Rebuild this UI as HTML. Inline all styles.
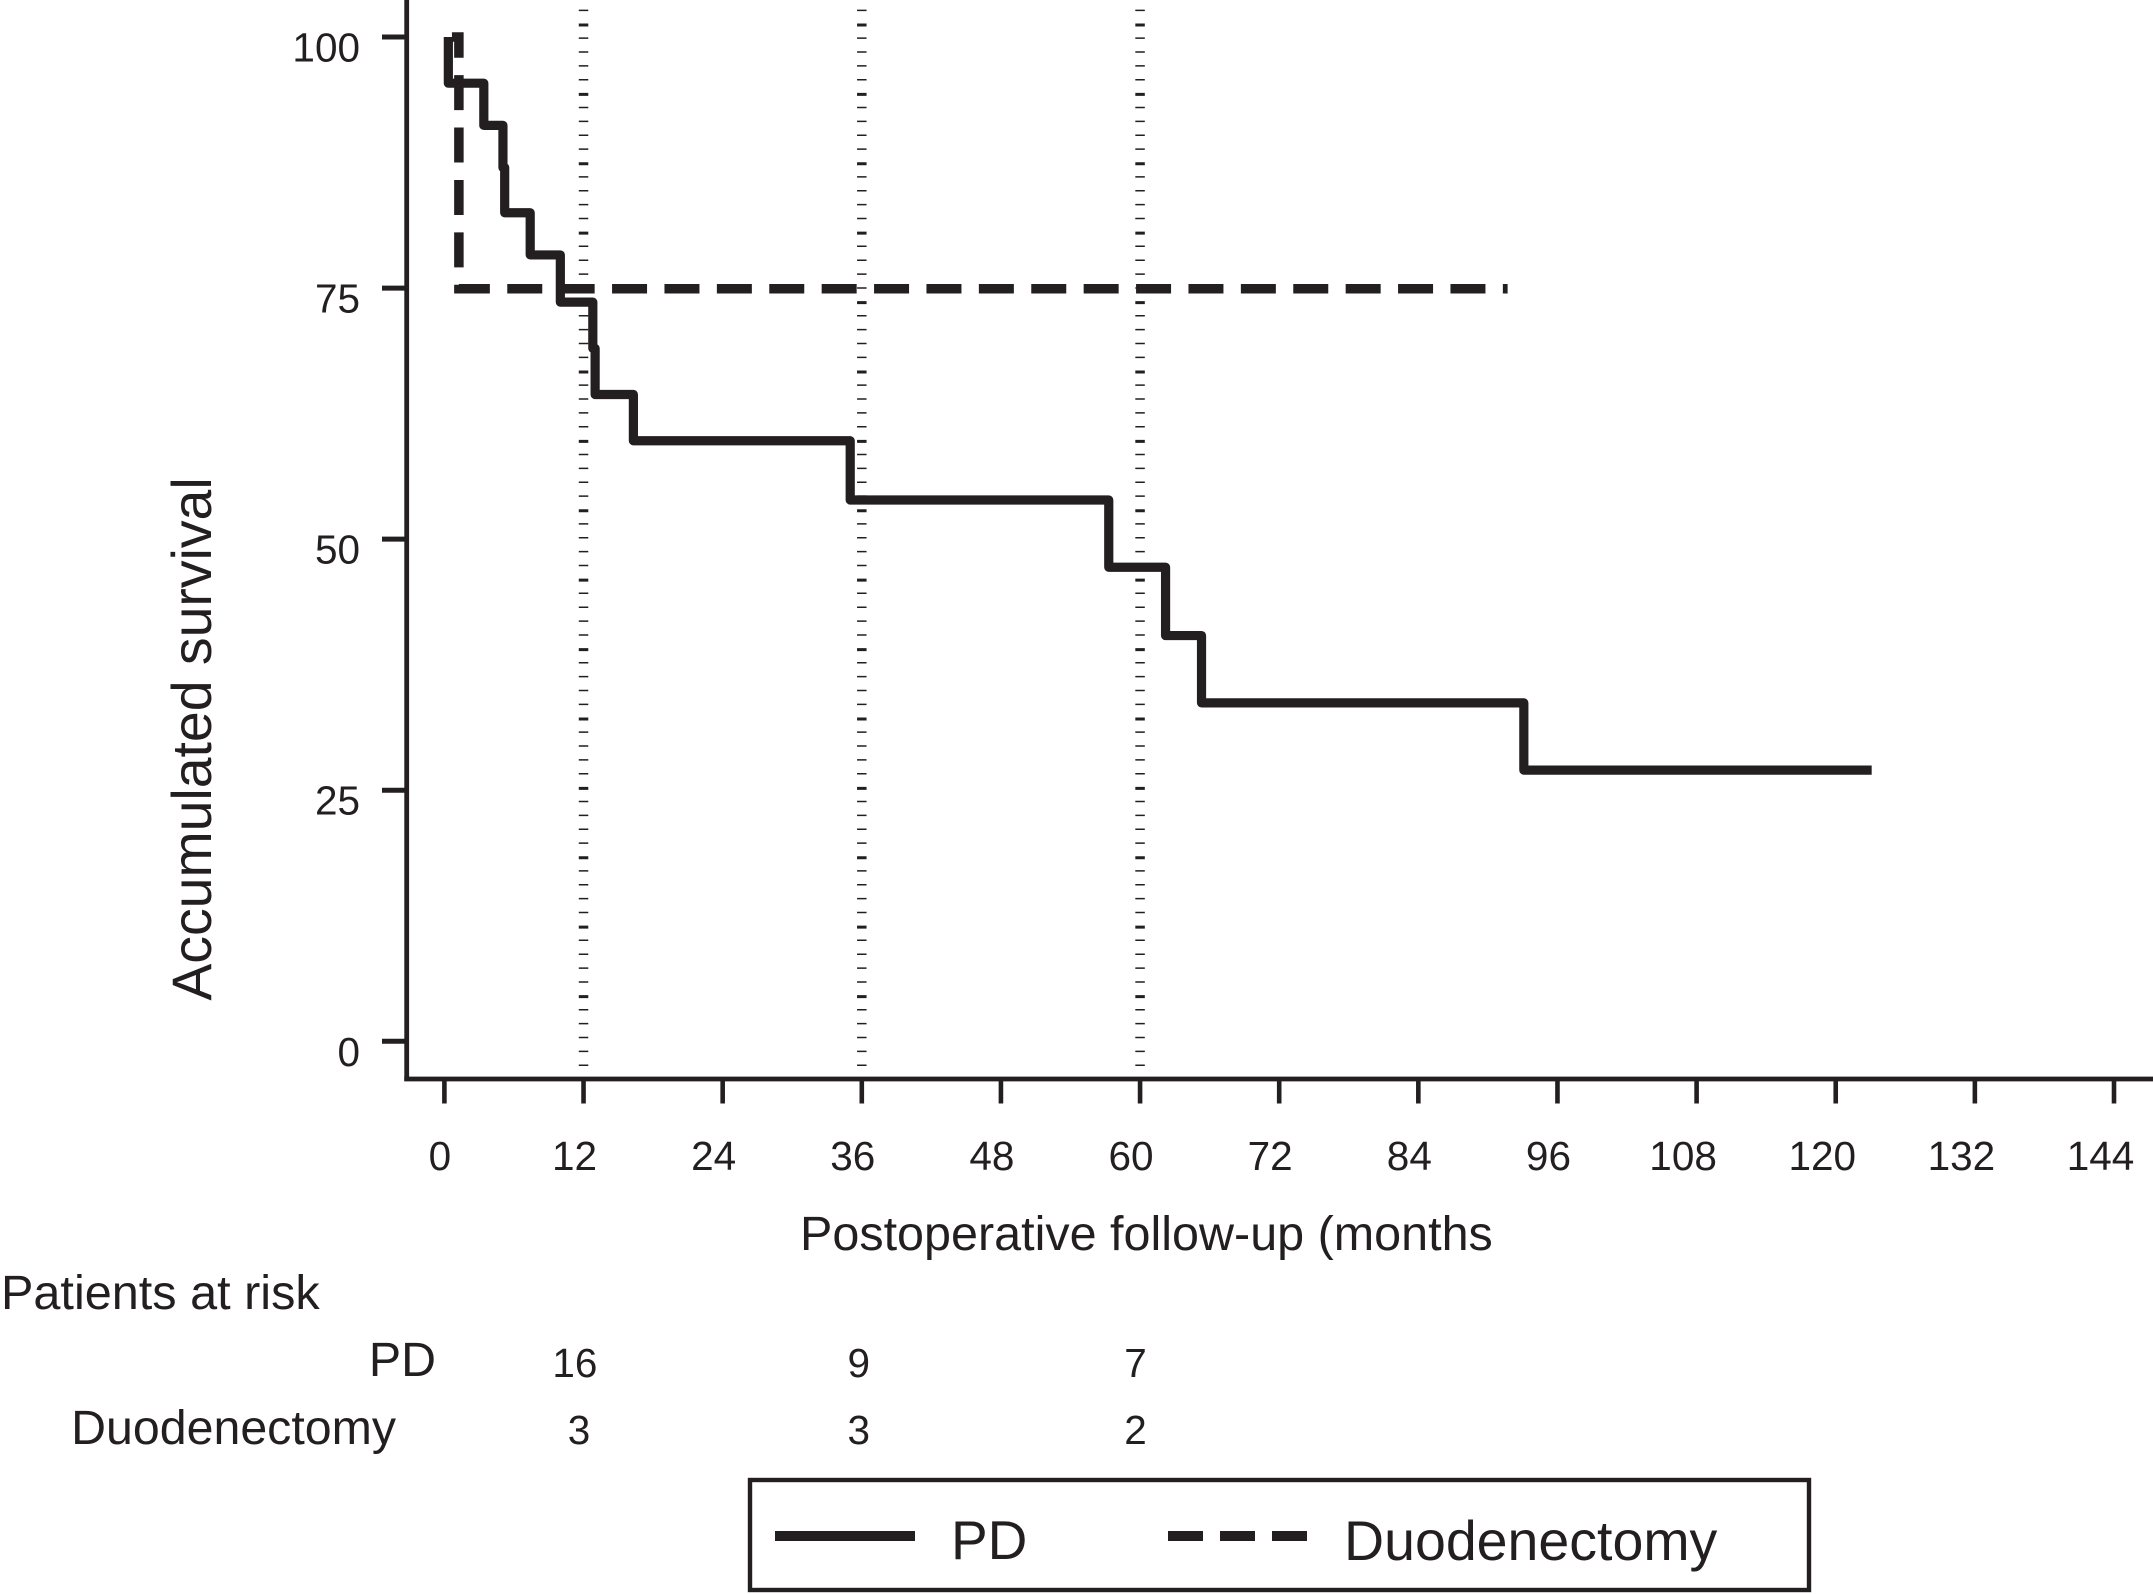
<!DOCTYPE html>
<html>
<head>
<meta charset="utf-8">
<title>Accumulated survival chart</title>
<style>
html,body{margin:0;padding:0;background:#fff;}
svg{display:block;}
text{font-family:"Liberation Sans",sans-serif;fill:#231f20;}
</style>
</head>
<body>
<svg id="chart" width="2153" height="1594" viewBox="0 0 2153 1594" xmlns="http://www.w3.org/2000/svg">
  <rect x="0" y="0" width="2153" height="1594" fill="#ffffff"/>
  <g id="guides"></g>
  <g id="axes">
    <line x1="406.7" y1="0" x2="406.7" y2="1081" stroke="#231f20" stroke-width="4.8"/>
    <line x1="404.3" y1="1079" x2="2153" y2="1079" stroke="#231f20" stroke-width="4.8"/>
  </g>
  <g id="series"></g>
  <text x="211" y="739" font-size="55.4" transform="rotate(-90 211 739)" text-anchor="middle">Accumulated survival</text>
  <text x="800" y="1250" font-size="48.5">Postoperative follow-up (months</text>
  <text x="1" y="1309" font-size="48.6">Patients at risk</text>
  <text x="436" y="1376" font-size="48.3" text-anchor="end">PD</text>
  <text x="396" y="1444" font-size="48.3" text-anchor="end">Duodenectomy</text>
  <g id="risk"></g>
  <g>
    <rect x="750" y="1480" width="1059" height="110" fill="none" stroke="#231f20" stroke-width="4.4"/>
    <line x1="775" y1="1536" x2="915" y2="1536" stroke="#231f20" stroke-width="10"/>
    <text x="951" y="1559" font-size="55">PD</text>
    <line x1="1168" y1="1536" x2="1309" y2="1536" stroke="#231f20" stroke-width="10" stroke-dasharray="35 17"/>
    <text x="1344" y="1560" font-size="55.5">Duodenectomy</text>
  </g>
</svg>
<script>
const xTickLabels = [0, 12, 24, 36, 48, 60, 72, 84, 96, 108, 120, 132, 144];
const yTickLabels = [0, 25, 50, 75, 100];
const guideTimes = [12, 36, 60];
const pdTime = [0.34, 0.34, 3.4, 5.05, 5.2, 7.4, 10, 12.8, 13, 16.3, 35, 57.3, 62.2, 65.3, 93.1, 123.1];
const pdSurvival = [100, 95.4, 91.2, 87, 82.5, 78.3, 73.6, 69, 64.4, 59.8, 53.9, 47.2, 40.4, 33.7, 27, 27];
const duoTime = [0.65, 1.25, 91.7];
const duoSurvival = [100, 74.93, 74.93];
const riskTimes = [12, 36, 60];
const riskPD = [16, 9, 7];
const riskDuo = [3, 3, 2];

const NS = 'http://www.w3.org/2000/svg';
const INK = '#231f20';
const xScale = t => 444.4 + t * (2114 - 444.4) / 144;
const yScale = s => 1041.3 - s * (1041.3 - 37) / 100;

function make(parent, tag, attrs, text) {
  const el = document.createElementNS(NS, tag);
  for (const k in attrs) el.setAttribute(k, attrs[k]);
  if (text !== undefined) el.textContent = text;
  parent.appendChild(el);
  return el;
}
function stepPath(times, values) {
  let d = 'M' + xScale(times[0]).toFixed(2) + ' ' + yScale(values[0]).toFixed(2);
  for (let i = 1; i < times.length; i++) {
    d += ' H' + xScale(times[i]).toFixed(2) + ' V' + yScale(values[i]).toFixed(2);
  }
  return d;
}
function riskDx(t, label) {
  if (label.length > 1) return -8.6;
  return t === 36 ? -3 : -4.5;
}

const axes = document.getElementById('axes');
const guides = document.getElementById('guides');
const series = document.getElementById('series');
const risk = document.getElementById('risk');

yTickLabels.forEach(v => {
  const tick = make(axes, 'line', {x1: 382, x2: 407, y1: yScale(v), y2: yScale(v), stroke: INK, 'stroke-width': 5});
  
  
  const label = make(axes, 'text', {x: 360, y: yScale(v) + 24.5, 'font-size': 40.5, 'text-anchor': 'end'}, String(v));
  
  
});

xTickLabels.forEach(v => {
  const tick = make(axes, 'line', {x1: xScale(v), x2: xScale(v), y1: 1079, y2: 1103.5, stroke: INK, 'stroke-width': 4.6});
  
  
  const s = String(v);
  const label = make(axes, 'text', {x: xScale(v) - 4.5 * s.length, y: 1170, 'font-size': 40.5, 'text-anchor': 'middle'}, s);
  
  
});

guideTimes.forEach(t => {
  const g = make(guides, 'line', {x1: xScale(t), x2: xScale(t), y1: 9.6, y2: 1066, stroke: INK, 'stroke-width': 9.5, 'stroke-dasharray': '1.5 12.38 3 10.88 1.5 12.38 1.5 12.38 1.5 12.38'});
  
  
});

const duoLine = make(series, 'path', {d: stepPath(duoTime, duoSurvival), fill: 'none', stroke: INK, 'stroke-width': 9.5, 'stroke-dasharray': '35 17.4', 'stroke-dashoffset': 7.3});



const pdLine = make(series, 'path', {d: stepPath(pdTime, pdSurvival), fill: 'none', stroke: INK, 'stroke-width': 9.2, 'stroke-linejoin': 'round'});



riskTimes.forEach((t, i) => {
  const pdLabel = String(riskPD[i]);
  const a = make(risk, 'text', {x: xScale(t) + riskDx(t, pdLabel), y: 1377, 'font-size': 40.5, 'text-anchor': 'middle'}, pdLabel);
  
  
  const duoLabel = String(riskDuo[i]);
  const b = make(risk, 'text', {x: xScale(t) + riskDx(t, duoLabel), y: 1444, 'font-size': 40.5, 'text-anchor': 'middle'}, duoLabel);
  
  
});
</script>
</body>
</html>
